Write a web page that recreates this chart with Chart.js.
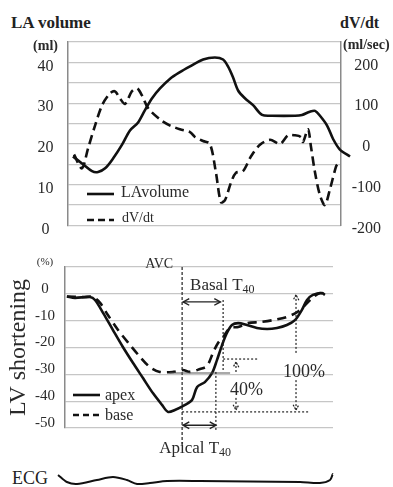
<!DOCTYPE html>
<html><head><meta charset="utf-8">
<script src="https://cdn.jsdelivr.net/npm/chart.js@4/dist/chart.umd.min.js"></script>
<style>
html,body{margin:0;padding:0;background:#fff;width:393px;height:487px;overflow:hidden;}
.box{position:absolute;left:0;width:393px;}
.lbl{position:absolute;font-family:'Liberation Serif','Times New Roman',serif;color:#222;white-space:nowrap;line-height:1;}
</style></head><body>
<div class="lbl" style="left:11px;top:14px;font-size:17px;font-weight:bold;">LA volume</div>
<div class="lbl" style="left:340px;top:15px;font-size:16px;font-weight:bold;">dV/dt</div>
<div class="lbl" style="left:12px;top:469px;font-size:18px;">ECG</div>
<div class="box" style="top:0;height:245px;"><canvas id="c1"></canvas></div>
<div class="box" style="top:240px;height:220px;"><canvas id="c2"></canvas></div>
<div class="box" style="top:462px;height:25px;"><canvas id="c3"></canvas></div>
<script>
// ---- Top panel: LA volume (ml) and dV/dt (ml/sec), time in % of cycle ----
const laTime = [1.8, 5.5, 8.8, 11, 13.6, 16.5, 19.8, 22.7, 25.6, 28.2, 30.8, 33.7, 37.4, 41, 44.7, 49.5, 53.8, 56.8, 58.6, 60.4, 62.3, 64.8, 67.8, 71.1, 74.7, 83.2, 85.7, 88.6, 90.5, 92.3, 94.9, 97.1, 99.6, 103.3];
const laVolume = [16.9, 15, 13.3, 13.1, 14, 16.4, 19.8, 23.3, 25.2, 28.3, 31.2, 33.6, 36, 37.6, 39, 40.7, 41.2, 40.7, 39, 36.4, 33.1, 31.2, 29.5, 27.1, 26.9, 26.9, 27.1, 27.9, 28.1, 26.9, 24.5, 21.2, 18.6, 16.9];
const dvTime = [2.2, 5.1, 7.3, 9.9, 12.5, 15.4, 17.2, 19, 20.9, 23.4, 25.3, 27.1, 29.3, 33.7, 37.4, 41, 44.7, 46.5, 49.5, 52, 54.2, 56, 57.5, 59.7, 61.5, 64.1, 67, 70.3, 74, 77.7, 80.6, 83.2, 85.3, 86.1, 87.9, 89, 90.5, 92.3, 94.1, 96, 98.2, 98.9];
const dvdt = [-26, -60, -12, 45, 95, 124, 129, 112, 98, 129, 136, 119, 88, 60, 45, 36, 29, 17, 7, 0, -71, -143, -138, -95, -71, -67, -31, -2, 10, 0, 21, 21, 17, 5, 36, -7, -71, -126, -150, -110, -55, -48];

// ---- Middle panel: LV shortening (%) ----
const apexTime = [0.7, 3.7, 9.3, 11.2, 14.2, 17.9, 21.6, 25.4, 29.1, 32.8, 36.2, 38.4, 41, 44.8, 47.4, 49.3, 52.2, 54.9, 56.7, 58.6, 60.4, 62.3, 64.6, 67.9, 71.6, 75.4, 79.1, 82.8, 85.8, 88.4, 90.3, 92.5, 95.9, 97];
const apexShort = [-1, -1.5, -1.2, -2.3, -7.1, -13.5, -19.8, -25.8, -31.4, -37, -41.4, -44, -43.3, -41.4, -39.6, -34.7, -32.9, -29.5, -24.7, -19.1, -14.6, -11.6, -10.9, -11.6, -12.7, -13.1, -12.7, -11.6, -9.8, -6, -2.3, -0.4, 0.3, -0.4];
const baseTime = [0.7, 6.7, 10.4, 13.1, 16, 19.8, 24.3, 28, 31.7, 35.4, 40.3, 44, 46.6, 50.4, 53, 55.2, 57.1, 59, 61.6, 64.6, 68.3, 72.8, 77.6, 82.8, 86.6, 89.6, 92.2, 95.1, 97];
const baseShort = [-1, -1.2, -1.2, -3.4, -7.9, -13.5, -19.1, -23.5, -27.3, -29.1, -29.1, -28.4, -29.1, -28, -26.9, -22, -18.3, -16.1, -12.7, -12.4, -10.9, -10.5, -9.8, -8.6, -6.8, -4.2, -1.6, 0.3, -0.1];

// annotation values (time %, shortening %)
const avcTime = 43.7, avcLineEnd = -57;
const basalT40Time = 59, basalArrowEnd = 58, basalArrowLevel = -3;
const apicalT40Time = 56.3, apicalArrowLevel = -49;
const baseMinLevel = -29.5, baseMinFrom = 39, baseMinTo = 61.6;
const apexMinLevel = -44, apexMinTo = 91.4;
const level40 = -24.3, level40To = 72;
const pct40Time = 63.8, pct40Top = -25.4, pct40Bottom = -43.3;
const pct100Time = 86.2, pct100Top = -0.4, pct100Bottom = -43.3;

// ---- Bottom: ECG trace (arbitrary units) ----
const ecgTime = [-2.6, 0.7, 4.5, 11.9, 17.9, 23.1, 26.9, 31.7, 38.1, 50.4, 87.7, 95.1, 98.9, 100, 100.4];
const ecgValue = [6.9, 2.5, 1.25, 3.75, 5.6, 3.75, 1.25, 1.9, 3.1, 3.1, 2.5, 1.9, 3.75, 7.5, 2.5];

const serif = "'Liberation Serif','Times New Roman',serif";
const pts = (xs, ys) => xs.map((x, i) => ({x, y: ys[i]}));
const gridColor = '#c6c6c6';
const axisColor = '#8a8a8a';
const textColor = '#2a2a2a';

function seg(ctx, x1, y1, x2, y2, dash, w) {
  ctx.beginPath(); ctx.setLineDash(dash); ctx.lineWidth = w;
  ctx.moveTo(x1, y1); ctx.lineTo(x2, y2); ctx.stroke();
}
function head(ctx, x, y, ang, len, dash, w) {
  ctx.beginPath(); ctx.setLineDash(dash); ctx.lineWidth = w;
  ctx.moveTo(x - len * Math.cos(ang - 0.5), y - len * Math.sin(ang - 0.5));
  ctx.lineTo(x, y);
  ctx.lineTo(x - len * Math.cos(ang + 0.5), y - len * Math.sin(ang + 0.5));
  ctx.stroke();
}
function subText(ctx, main, sub, x, y, size, align) {
  ctx.font = size + 'px ' + serif;
  const w1 = ctx.measureText(main).width;
  ctx.font = Math.round(size * 0.7) + 'px ' + serif;
  const w2 = ctx.measureText(sub).width;
  let sx = x;
  if (align === 'center') sx = x - (w1 + w2) / 2;
  ctx.textAlign = 'left';
  ctx.font = size + 'px ' + serif; ctx.fillText(main, sx, y);
  ctx.font = Math.round(size * 0.7) + 'px ' + serif; ctx.fillText(sub, sx + w1, y + 3);
}

const legendTop = {
  id: 'legendTop',
  afterDraw(chart) {
    const {ctx, chartArea: a} = chart;
    ctx.save();
    ctx.strokeStyle = '#111';
    seg(ctx, a.left + 19, a.top + 152, a.left + 46, a.top + 152, [], 2.6);
    seg(ctx, a.left + 19, a.top + 178, a.left + 46, a.top + 178, [7, 4], 2.6);
    ctx.fillStyle = textColor; ctx.textBaseline = 'alphabetic'; ctx.textAlign = 'left';
    ctx.font = '16px ' + serif; ctx.fillText('LAvolume', a.left + 53, a.top + 155);
    ctx.font = '14px ' + serif; ctx.fillText('dV/dt', a.left + 54, a.top + 180);
    ctx.restore();
  }
};

const annotMid = {
  id: 'annotMid',
  afterDatasetsDraw(chart) {
    const {ctx, chartArea: a, scales: {x, y}} = chart;
    const X = v => x.getPixelForValue(v), Y = v => y.getPixelForValue(v);
    ctx.save();
    ctx.strokeStyle = '#222'; ctx.fillStyle = textColor; ctx.textBaseline = 'alphabetic';
    // AVC line
    seg(ctx, X(avcTime), Y(10), X(avcTime), Y(avcLineEnd), [3, 2], 1.2);
    ctx.font = '14px ' + serif; ctx.textAlign = 'right';
    ctx.fillText('AVC', X(avcTime) - 9, Y(10) + 1);
    // base minimum mark
    ctx.strokeStyle = '#555';
    seg(ctx, X(baseMinFrom), Y(baseMinLevel), X(baseMinTo), Y(baseMinLevel), [], 1.2);
    ctx.strokeStyle = '#222';
    // Basal T40 arrow
    const by = Y(basalArrowLevel);
    seg(ctx, X(avcTime) + 1, by, X(basalArrowEnd), by, [], 1.4);
    head(ctx, X(avcTime) + 1, by, Math.PI, 7, [], 1.4);
    head(ctx, X(basalArrowEnd), by, 0, 7, [], 1.4);
    seg(ctx, X(basalT40Time), Y(-2.3), X(basalT40Time), Y(-29.1), [2, 2], 1.2);
    seg(ctx, X(basalT40Time), Y(level40), X(level40To), Y(level40), [2, 2], 1.2);
    subText(ctx, 'Basal T', '40', X(avcTime) + 8, by - 12, 17, 'left');
    // Apical T40 arrow
    const ay = Y(apicalArrowLevel);
    seg(ctx, X(avcTime) + 1, ay, X(apicalT40Time), ay, [], 1.4);
    head(ctx, X(avcTime) + 1, ay, Math.PI, 7, [], 1.4);
    head(ctx, X(apicalT40Time), ay, 0, 7, [], 1.4);
    seg(ctx, X(apicalT40Time), Y(-29.1), X(apicalT40Time), Y(-51.5), [2, 2], 1.2);
    seg(ctx, X(avcTime), Y(apexMinLevel), X(apexMinTo), Y(apexMinLevel), [2, 2], 1.2);
    subText(ctx, 'Apical T', '40', X(avcTime) + 13, ay + 28, 17, 'center');
    // 40% arrow
    const t40y = Y(-35.8) + 5;
    const x40 = X(pct40Time);
    seg(ctx, x40, Y(pct40Top), x40, t40y - 22, [2, 2], 1.2);
    seg(ctx, x40, t40y + 3, x40, Y(pct40Bottom), [2, 2], 1.2);
    head(ctx, x40, Y(pct40Top), -Math.PI / 2, 6, [2, 1], 1.2);
    head(ctx, x40, Y(pct40Bottom), Math.PI / 2, 6, [2, 1], 1.2);
    ctx.font = '18px ' + serif; ctx.textAlign = 'left';
    ctx.fillText('40%', x40 - 6, t40y);
    // 100% arrow
    const t100y = Y(-28.8) + 6;
    const x100 = X(pct100Time);
    seg(ctx, x100, Y(pct100Top), x100, t100y - 22, [2, 2], 1.2);
    seg(ctx, x100, t100y + 3, x100, Y(pct100Bottom), [2, 2], 1.2);
    head(ctx, x100, Y(pct100Top), -Math.PI / 2, 6, [2, 1], 1.2);
    head(ctx, x100, Y(pct100Bottom), Math.PI / 2, 6, [2, 1], 1.2);
    ctx.font = '18px ' + serif;
    ctx.fillText('100%', x100 - 13, t100y);
    // legend
    ctx.strokeStyle = '#111';
    seg(ctx, a.left + 8, a.top + 128, a.left + 35, a.top + 128, [], 2.6);
    seg(ctx, a.left + 8, a.top + 148, a.left + 35, a.top + 148, [6, 4], 2.6);
    ctx.font = '16px ' + serif; ctx.textAlign = 'left';
    ctx.fillText('apex', a.left + 40, a.top + 133);
    ctx.fillText('base', a.left + 40, a.top + 153);
    ctx.restore();
  }
};

const common = {
  responsive: true, maintainAspectRatio: false, animation: false, devicePixelRatio: 1,
  plugins: {legend: {display: false}, tooltip: {enabled: false}},
  elements: {point: {radius: 0}}
};

new Chart(document.getElementById('c1'), {
  type: 'line',
  data: {datasets: [
    {label: 'LA volume', data: pts(laTime, laVolume), yAxisID: 'y', borderColor: '#111', borderWidth: 2.6, tension: 0.3, clip: false},
    {label: 'dV/dt', data: pts(dvTime, dvdt), yAxisID: 'y2', borderColor: '#111', borderWidth: 2.6, borderDash: [9, 5], tension: 0.3}
  ]},
  options: Object.assign({}, common, {
    layout: {padding: {left: 0, right: 0, top: 42, bottom: 14}},
    scales: {
      x: {type: 'linear', min: 0, max: 100, display: false},
      y: {
        position: 'left', min: 0, max: 45,
        afterFit(s) { s.width = 68; },
        grid: {color: gridColor, lineWidth: 1.2, drawTicks: false},
        border: {display: true, color: axisColor, width: 1.5},
        ticks: {
          stepSize: 5, autoSkip: false, padding: 10, crossAlign: 'center', labelOffset: 4, color: textColor,
          font: c => (c.tick && c.tick.value === 45) ? {family: serif, size: 14, weight: 'bold'} : {family: serif, size: 16},
          callback: v => v === 45 ? '(ml)' : (v % 10 === 0 ? String(v) : '')
        }
      },
      y2: {
        position: 'right', min: -200, max: 250,
        afterFit(s) { s.width = 52; },
        grid: {display: false, drawTicks: false},
        border: {display: true, color: axisColor, width: 1.5},
        ticks: {
          stepSize: 50, autoSkip: false, padding: 2, crossAlign: 'center', labelOffset: 3, color: textColor,
          font: c => (c.tick && c.tick.value === 250) ? {family: serif, size: 14, weight: 'bold'} : {family: serif, size: 16},
          callback: v => v === 250 ? '(ml/sec)' : (v % 100 === 0 ? String(v) : '')
        }
      }
    }
  }),
  plugins: [legendTop]
});

new Chart(document.getElementById('c2'), {
  type: 'line',
  data: {datasets: [
    {label: 'apex', data: pts(apexTime, apexShort), borderColor: '#111', borderWidth: 2.6, tension: 0.3},
    {label: 'base', data: pts(baseTime, baseShort), borderColor: '#111', borderWidth: 2.6, borderDash: [9, 6], tension: 0.3}
  ]},
  options: Object.assign({}, common, {
    layout: {padding: {left: 0, right: 60, top: 27, bottom: 32}},
    scales: {
      x: {type: 'linear', min: 0, max: 100, display: false},
      y: {
        position: 'left', min: -50, max: 10,
        afterFit(s) { s.width = 65; },
        grid: {color: gridColor, lineWidth: 1.2, drawTicks: false},
        border: {display: true, color: axisColor, width: 1.5},
        title: {display: true, text: 'LV shortening', color: textColor, font: {family: serif, size: 24}, padding: {top: 4, bottom: 0}},
        ticks: {
          stepSize: 10, autoSkip: false, padding: 10, crossAlign: 'center', labelOffset: -5, color: textColor,
          font: c => (c.tick && c.tick.value === 10) ? {family: serif, size: 11} : {family: serif, size: 15},
          callback: v => v === 10 ? '(%)' : String(v)
        }
      }
    }
  }),
  plugins: [annotMid]
});

new Chart(document.getElementById('c3'), {
  type: 'line',
  data: {datasets: [
    {label: 'ECG', data: pts(ecgTime, ecgValue), borderColor: '#111', borderWidth: 2, tension: 0.3, clip: false}
  ]},
  options: Object.assign({}, common, {
    layout: {padding: {left: 65, right: 60, top: 8, bottom: 1}},
    scales: {
      x: {type: 'linear', min: 0, max: 100, display: false},
      y: {min: 0, max: 10, display: false}
    }
  })
});
</script>
</body></html>
